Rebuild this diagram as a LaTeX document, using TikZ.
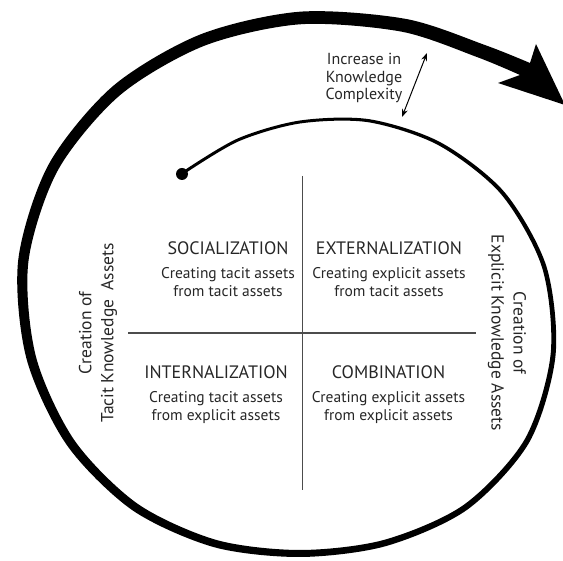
\documentclass[tikz,border=0pt]{standalone}
\usepackage{fontspec}
\setmainfont{PT Sans}
\usetikzlibrary{positioning,arrows.meta}

\begin{document}
\begin{tikzpicture}[x=1pt,y=-1pt]

  \useasboundingbox (0,0) rectangle (563,561);

  \begin{scope}[shift={(300,310)}]
    \fill plot[smooth] coordinates {(230:181.5) (250:182.5) (270:189.5) (290:203) (310:218.8) (330:236) (350:250.25) (370:259.5) (390:264.75) (410:260.5) (430:251.25) (450:247) (470:252.3) (490:261.15) (510:269.5) (530:277.85) (550:286.15) (570:290.45) (590:291.75) (610:293) (630:298.3) (650:309.75) (665:323.25) (230,-247)}
      -- (236,-266) -- (265,-205) -- (198,-227) -- (220,-235)
      -- plot[smooth] coordinates {(220,-235) (665:308.75) (650:296.25) (630:285.7) (610:281) (590:280.25) (570:279.55) (550:275.85) (530:268.15) (510:260.5) (490:252.85) (470:244.7) (450:240) (430:244.75) (410:254.5) (390:259.25) (370:254.5) (350:245.75) (330:232) (310:215.2) (290:199.8) (270:186.5) (250:179.5) (230:178.5)} -- cycle;
  \end{scope}

  \node[circle,fill,inner sep=0pt,minimum size=12pt] (start) at (182,174) {};

  \coordinate (vtop) at (302.5,176);
  \coordinate (vbot) at (302.5,490);
  \coordinate (hleft) at (128,333);
  \coordinate (hright) at (476,333);
  \draw[black!70,line width=1.5pt] (vtop) -- (vbot);
  \draw[black!70,line width=1.5pt] (hleft) -- (hright);

  \coordinate (lo) at (402,117);
  \coordinate (hi) at (427,53);
  \draw[line width=1pt,{Stealth[length=8pt,width=6pt]}-{Stealth[length=8pt,width=6pt]}] (lo) -- (hi);

  \begin{scope}[every node/.style={inner sep=0pt,text=black!85,font=\fontsize{18}{20}\selectfont}]
    \node (soc) at (228,248.5) {SOCIALIZATION};
    \node (ext) at (389,248.5) {EXTERNALIZATION};
    \node (int) at (216,372.5) {INTERNALIZATION};
    \node (com) at (388.5,372.5) {COMBINATION};
  \end{scope}

  \begin{scope}[every node/.style={inner sep=0pt,align=center,text=black!85,font=\fontsize{15.5}{17.5}\selectfont}]
    \node[below=12.5pt of soc] (socb) {Creating tacit assets\\from tacit assets};
    \node[below=12.5pt of ext] (extb) {Creating explicit assets\\from tacit assets};
    \node[below=12.5pt of int] (intb) {Creating tacit assets\\from explicit assets};
    \node[below=12.5pt of com] (comb) {Creating explicit assets\\from explicit assets};
  \end{scope}

  \begin{scope}[every node/.style={inner sep=0pt,align=center,text=black!85,font=\fontsize{17.5}{22}\selectfont}]
    \node[rotate=90] (tacit) at (98,333) {Creation of\\Tacit Knowledge~ Assets};
    \node[rotate=-90] (expl) at (507,333) {Creation of\\Explicit Knowledge Assets};
  \end{scope}

  \node[inner sep=0pt,align=center,text=black!85,font=\fontsize{16}{17.5}\selectfont] (incr) at (364,78) {Increase in\\Knowledge\\Complexity};

\end{tikzpicture}
\end{document}
